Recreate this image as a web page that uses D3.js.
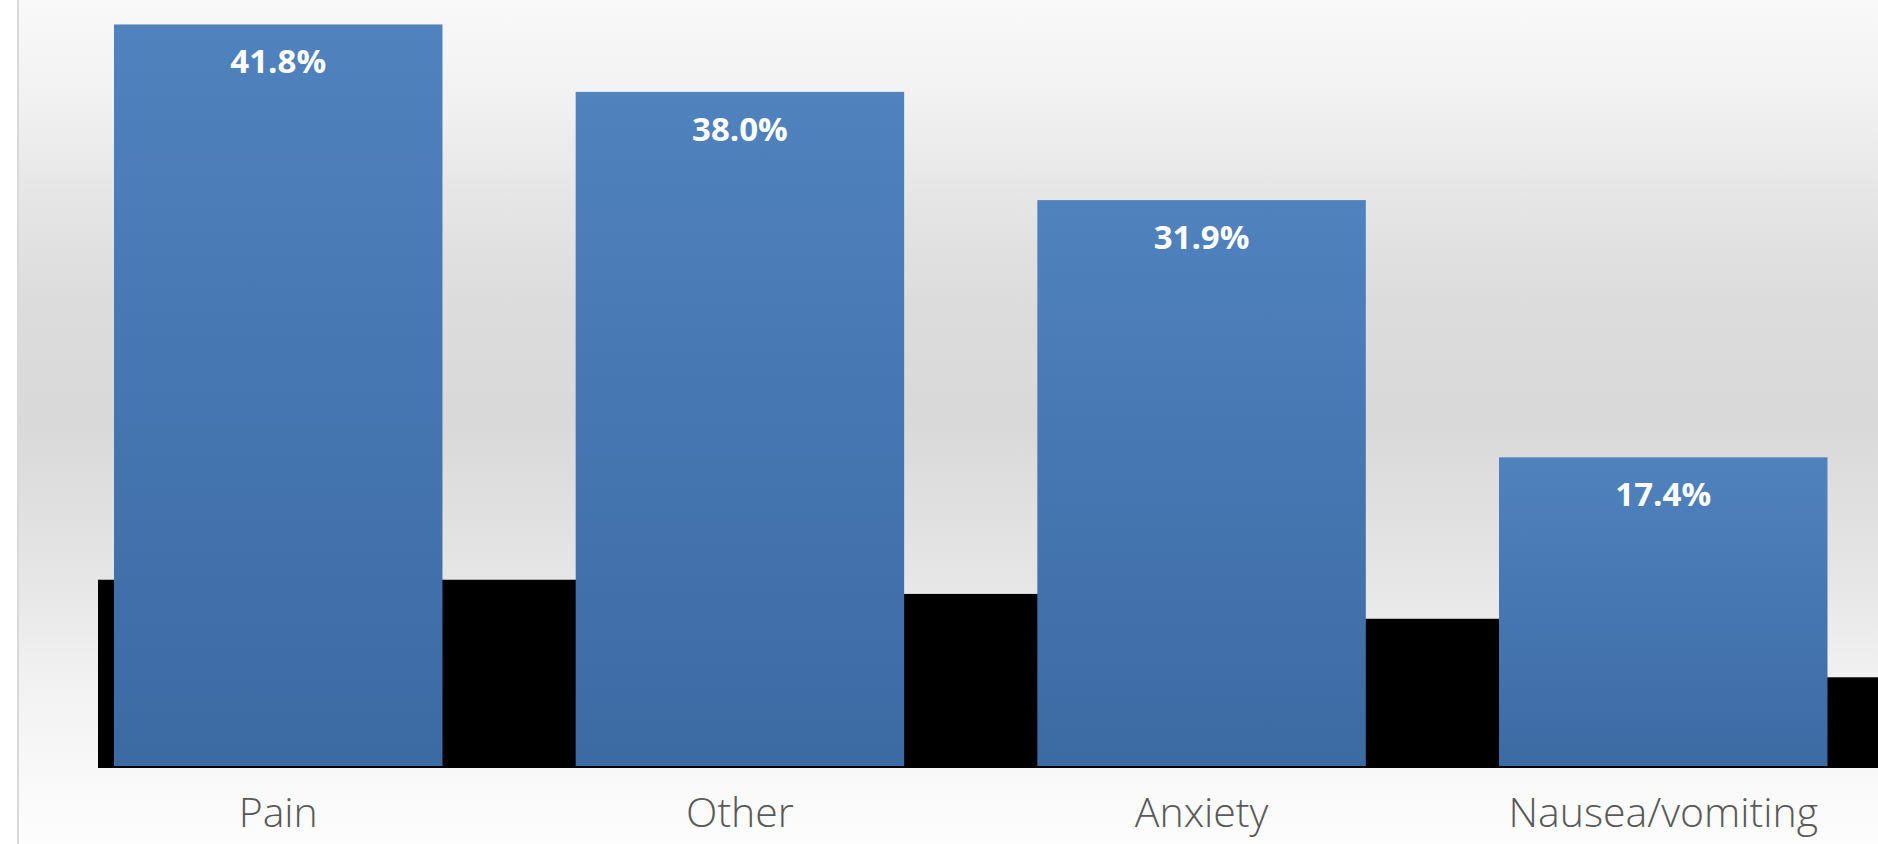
<!DOCTYPE html>
<html>
<head>
<meta charset="utf-8">
<script src="https://cdn.jsdelivr.net/npm/d3@7/dist/d3.min.js"></script>
<style>
  html, body { margin: 0; padding: 0; background: #ffffff; }
  svg { display: block; }
</style>
</head>
<body>
<svg id="chart" width="1878" height="844"></svg>
<script>
// ---- data ----
const categories = ["Pain", "Other", "Anxiety", "Nausea/vomiting"];
const blueValues = [41.8, 38.0, 31.9, 17.4];
const blackValues = [10.5, 9.7, 8.3, 5.0];
const valueLabels = ["41.8%", "38.0%", "31.9%", "17.4%"];

const W = 1878, H = 844;
const svg = d3.select("#chart");
const defs = svg.append("defs");

// background gradient
const bg = defs.append("linearGradient").attr("id", "bgGrad")
  .attr("x1", 0).attr("y1", 0).attr("x2", 0).attr("y2", 1);
[[0, "#f9f9f9"], [0.12, "#f1f1f1"], [0.24, "#e5e5e5"], [0.36, "#dcdcdc"],
 [0.5, "#d9d9d9"], [0.66, "#e4e4e4"], [0.73, "#eaeaea"], [0.80, "#f1f1f1"],
 [0.91, "#f8f8f8"], [1, "#fdfdfd"]].forEach(([o, c]) =>
  bg.append("stop").attr("offset", o).attr("stop-color", c));

const barGrad = defs.append("linearGradient").attr("id", "barGrad")
  .attr("x1", 0).attr("y1", 0).attr("x2", 0).attr("y2", 1);
barGrad.append("stop").attr("offset", 0).attr("stop-color", "#5082be");
barGrad.append("stop").attr("offset", 1).attr("stop-color", "#3c6aa3");

defs.append("clipPath").attr("id", "plotClip")
  .append("rect").attr("x", 19).attr("y", 0).attr("width", W - 19).attr("height", H);

svg.append("rect").attr("x", 19).attr("y", 0).attr("width", W - 19).attr("height", H)
  .attr("fill", "url(#bgGrad)");
svg.append("rect").attr("x", 17).attr("y", 0).attr("width", 2).attr("height", H)
  .attr("fill", "#d9d9d9");

// ---- scales ----
const step = 461.67;
const x = d3.scaleBand().domain(categories)
  .range([114 - 0.14425 * step, 114 - 0.14425 * step + 4 * step])
  .paddingInner(0.2885).paddingOuter(0.14425);
const xBlack = d3.scaleBand().domain(categories)
  .range([98, 98 + 4 * step]).paddingInner(0).paddingOuter(0);
const y = d3.scaleLinear().domain([0, 50]).range([766, 766 - 50 * 17.74]);

const g = svg.append("g").attr("clip-path", "url(#plotClip)");

// black series (drawn in reverse so earlier ones sit on top)
const blackData = categories.map((c, i) => ({ c, v: blackValues[i] })).reverse();
g.selectAll("rect.black").data(blackData).enter().append("rect")
  .attr("class", "black")
  .attr("x", d => xBlack(d.c))
  .attr("y", d => y(d.v))
  .attr("width", xBlack.bandwidth() + 19)
  .attr("height", d => y(0) - y(d.v) + 2)
  .attr("fill", "#000000");

// blue series
const blueData = categories.map((c, i) => ({ c, v: blueValues[i], label: valueLabels[i] }));
g.selectAll("rect.blue").data(blueData).enter().append("rect")
  .attr("class", "blue")
  .attr("x", d => x(d.c))
  .attr("y", d => y(d.v))
  .attr("width", x.bandwidth())
  .attr("height", d => y(0) - y(d.v))
  .attr("fill", "url(#barGrad)");

// value labels
g.selectAll("text.val").data(blueData).enter().append("text")
  .attr("class", "val")
  .attr("x", d => x(d.c) + x.bandwidth() / 2)
  .attr("y", d => y(d.v) + 49)
  .attr("text-anchor", "middle")
  .attr("font-family", "'Open Sans', 'Noto Sans', sans-serif")
  .attr("font-weight", 700)
  .attr("font-size", 33)
  .attr("fill", "#ffffff")
  .text(d => d.label);

// category axis
const axis = d3.axisBottom(x).tickSize(0).tickPadding(0);
const ag = svg.append("g").attr("transform", "translate(0,766)").call(axis);
ag.select(".domain").remove();
ag.selectAll("text")
  .attr("dy", 0)
  .attr("y", 61)
  .attr("font-family", "'Open Sans', sans-serif")
  .attr("font-weight", 300)
  .attr("font-size", 41)
  .attr("fill", "#595959");
</script>
</body>
</html>
